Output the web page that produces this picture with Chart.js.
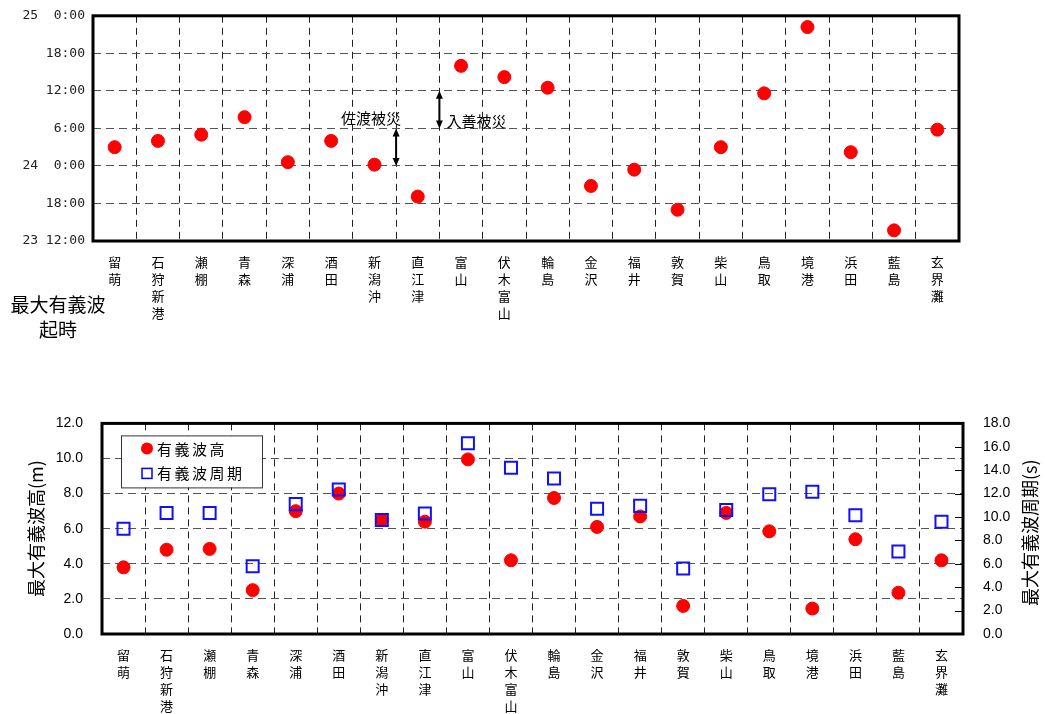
<!DOCTYPE html>
<html>
<head>
<meta charset="utf-8">
<script src="https://cdn.jsdelivr.net/npm/chart.js@4"></script>
<style>
body{margin:0;background:#fff;}
#wrap{position:relative;width:1045px;height:714px;}
.box{position:absolute;left:0;width:1045px;}
</style>
</head>
<body>
<div id="wrap">
  <div class="box" style="top:0;height:345px"><canvas id="timeChart"></canvas></div>
  <div class="box" style="top:395px;height:319px"><canvas id="waveChart"></canvas></div>
</div>
<script>
const stations=["留萌","石狩新港","瀬棚","青森","深浦","酒田","新潟沖","直江津","富山","伏木富山","輪島","金沢","福井","敦賀","柴山","鳥取","境港","浜田","藍島","玄界灘"]
// hours from 24th 0:00
const peakTime=[3,4,5,7.8,0.6,4,0.2,-4.9,16,14.2,12.5,-3.2,-0.6,-7,3,11.6,22.2,2.2,-10.3,5.8]
const timeTickValues=[-12,-6,0,6,12,18,24]
const timeTickLabels=["23 12:00","18:00","24  0:00","6:00","12:00","18:00","25  0:00"]
const waveHeight=[3.8,4.8,4.85,2.5,7.0,8.0,6.5,6.4,9.95,4.2,7.75,6.1,6.7,1.6,6.9,5.85,1.45,5.4,2.35,4.2]
const wavePeriod=[9.0,10.35,10.35,5.8,11.1,12.35,9.75,10.3,16.3,14.2,13.3,10.7,10.95,5.6,10.6,11.95,12.15,10.15,7.05,9.6]

const jp="'Noto Sans CJK JP', sans-serif"
Chart.defaults.color="#000"
Chart.defaults.font.family=jp
Chart.defaults.animation=false

const stackedLabels=stations.map(s=>s.split(""))

// thick frame round the plot
const framePlugin={
    id:"frame",
    afterDraw(chart){
        const a=chart.chartArea, c=chart.ctx
        c.save()
        c.strokeStyle="#000"
        c.lineWidth=3
        c.strokeRect(a.left,a.top,a.right-a.left,a.bottom-a.top)
        c.restore()
    }
}

function arrow(c,x,y1,y2){
    c.beginPath()
    c.moveTo(x,y1+4);c.lineTo(x,y2-4);c.stroke()
    c.beginPath()
    c.moveTo(x,y1);c.lineTo(x-3.5,y1+8);c.lineTo(x+3.5,y1+8);c.closePath();c.fill()
    c.beginPath()
    c.moveTo(x,y2);c.lineTo(x-3.5,y2-8);c.lineTo(x+3.5,y2-8);c.closePath();c.fill()
}

const timeNotes={
    id:"timeNotes",
    afterDatasetsDraw(chart){
        const c=chart.ctx, x=chart.scales.x, y=chart.scales.y
        c.save()
        c.strokeStyle="#000";c.fillStyle="#000";c.lineWidth=2
        const xa=(x.getPixelForValue(6)+x.getPixelForValue(7))/2
        const xb=(x.getPixelForValue(7)+x.getPixelForValue(8))/2
        arrow(c,xa,y.getPixelForValue(6),y.getPixelForValue(0))
        arrow(c,xb,y.getPixelForValue(12),y.getPixelForValue(6))
        c.font="15px "+jp
        c.textBaseline="middle"
        c.textAlign="right"
        c.fillText("佐渡被災",xa+5,y.getPixelForValue(7.6))
        c.textAlign="left"
        c.fillText("入善被災",xb+7,y.getPixelForValue(7.1))
        c.font="19px "+jp
        c.textAlign="center"
        c.fillText("最大有義波",58,305)
        c.fillText("起時",58,330)
        c.restore()
    }
}

new Chart(document.getElementById("timeChart"),{
    type:"scatter",
    data:{
        labels:stackedLabels,
        datasets:[{
            data:peakTime,
            backgroundColor:"#ff0000",
            borderColor:"#ff0000",
            pointRadius:6.5,
            pointHoverRadius:6.5
        }]
    },
    options:{
        responsive:true,
        maintainAspectRatio:false,
        layout:{padding:{top:15,right:86,left:0,bottom:0}},
        plugins:{legend:{display:false},tooltip:{enabled:false}},
        scales:{
            x:{
                type:"category",
                offset:true,
                grid:{offset:true,color:"#222",drawTicks:false},
                border:{dash:[7,5],display:false},
                ticks:{autoSkip:false,maxRotation:0,padding:12,font:{size:13,lineHeight:1.33}},
                afterFit(s){s.height=104}
            },
            y:{
                min:-12,max:24,
                afterBuildTicks(s){s.ticks=timeTickValues.map(v=>({value:v}))},
                grid:{color:"#555",drawTicks:false},
                border:{dash:[8,5],display:false},
                ticks:{
                    padding:8,
                    font:{size:13,family:"'DejaVu Sans Mono', monospace"},
                    color:"#222",
                    callback:v=>timeTickLabels[timeTickValues.indexOf(v)]
                },
                afterFit(s){s.width=93}
            }
        }
    },
    plugins:[timeNotes,framePlugin]
})

const waveNotes={
    id:"waveNotes",
    afterDatasetsDraw(chart){
        const c=chart.ctx, a=chart.chartArea, y2=chart.scales.y2
        c.save()
        // inner tick marks of right axis
        c.strokeStyle="#000";c.lineWidth=1
        y2.ticks.forEach(t=>{
            const py=Math.round(y2.getPixelForValue(t.value))+0.5
            c.beginPath();c.moveTo(a.right-8,py);c.lineTo(a.right,py);c.stroke()
        })
        // legend box
        const lx=a.left+19, ly=a.top+12
        c.fillStyle="#fff";c.fillRect(lx,ly,141,52)
        c.strokeStyle="#333";c.lineWidth=1
        c.strokeRect(lx+0.5,ly+0.5,141,52)
        c.fillStyle="#ff0000"
        c.beginPath();c.arc(lx+26,ly+13,6,0,Math.PI*2);c.fill()
        c.strokeStyle="#0000ff";c.lineWidth=1.5
        c.strokeRect(lx+21,ly+33,10,10)
        c.fillStyle="#000"
        c.font="15px "+jp
        c.textBaseline="middle";c.textAlign="left"
        c.letterSpacing="2.5px"
        c.fillText("有義波高",lx+36,ly+14)
        c.fillText("有義波周期",lx+36,ly+38)
        c.letterSpacing="0px"
        // axis titles
        c.font="18px "+jp
        c.textAlign="center"
        c.translate(36,(a.top+a.bottom)/2)
        c.rotate(-Math.PI/2)
        c.fillText("最大有義波高(m)",0,0)
        c.restore()
        c.save()
        c.fillStyle="#000"
        c.font="18px "+jp
        c.textAlign="center";c.textBaseline="middle"
        c.translate(1030,(a.top+a.bottom)/2+4)
        c.rotate(-Math.PI/2)
        c.fillText("最大有義波周期(s)",0,0)
        c.restore()
    }
}

new Chart(document.getElementById("waveChart"),{
    type:"scatter",
    data:{
        labels:stackedLabels,
        datasets:[
            {
                label:"有義波高",
                data:waveHeight,
                yAxisID:"y",
                backgroundColor:"#ff0000",
                borderColor:"#ff0000",
                pointRadius:6.5,
                pointHoverRadius:6.5,
                order:2
            },
            {
                label:"有義波周期",
                data:wavePeriod,
                yAxisID:"y2",
                pointStyle:"rect",
                backgroundColor:"rgba(0,0,0,0)",
                borderColor:"#1010ff",
                borderWidth:2,
                pointRadius:8.5,
                pointHoverRadius:8.5,
                order:1
            }
        ]
    },
    options:{
        responsive:true,
        maintainAspectRatio:false,
        layout:{padding:{top:13,right:0,left:0,bottom:0}},
        plugins:{legend:{display:false},tooltip:{enabled:false}},
        scales:{
            x:{
                type:"category",
                offset:true,
                grid:{offset:true,color:"#222",drawTicks:false},
                border:{dash:[7,5],display:false},
                ticks:{autoSkip:false,maxRotation:0,padding:13,font:{size:13,lineHeight:1.3}},
                afterFit(s){s.height=80}
            },
            y:{
                position:"left",
                min:0,max:12,
                ticks:{stepSize:2,padding:19,font:{size:14,family:"'Liberation Sans', Arial"},callback:v=>v.toFixed(1)},
                grid:{color:"#555",drawTicks:false},
                border:{dash:[8,5],display:false},
                afterFit(s){s.width=102}
            },
            y2:{
                position:"right",
                min:0,max:18,
                ticks:{stepSize:2,padding:20,font:{size:14,family:"'Liberation Sans', Arial"},callback:v=>v.toFixed(1)},
                grid:{drawOnChartArea:false,drawTicks:false},
                border:{display:false},
                afterFit(s){s.width=82}
            }
        }
    },
    plugins:[waveNotes,framePlugin]
})
</script>
</body>
</html>
